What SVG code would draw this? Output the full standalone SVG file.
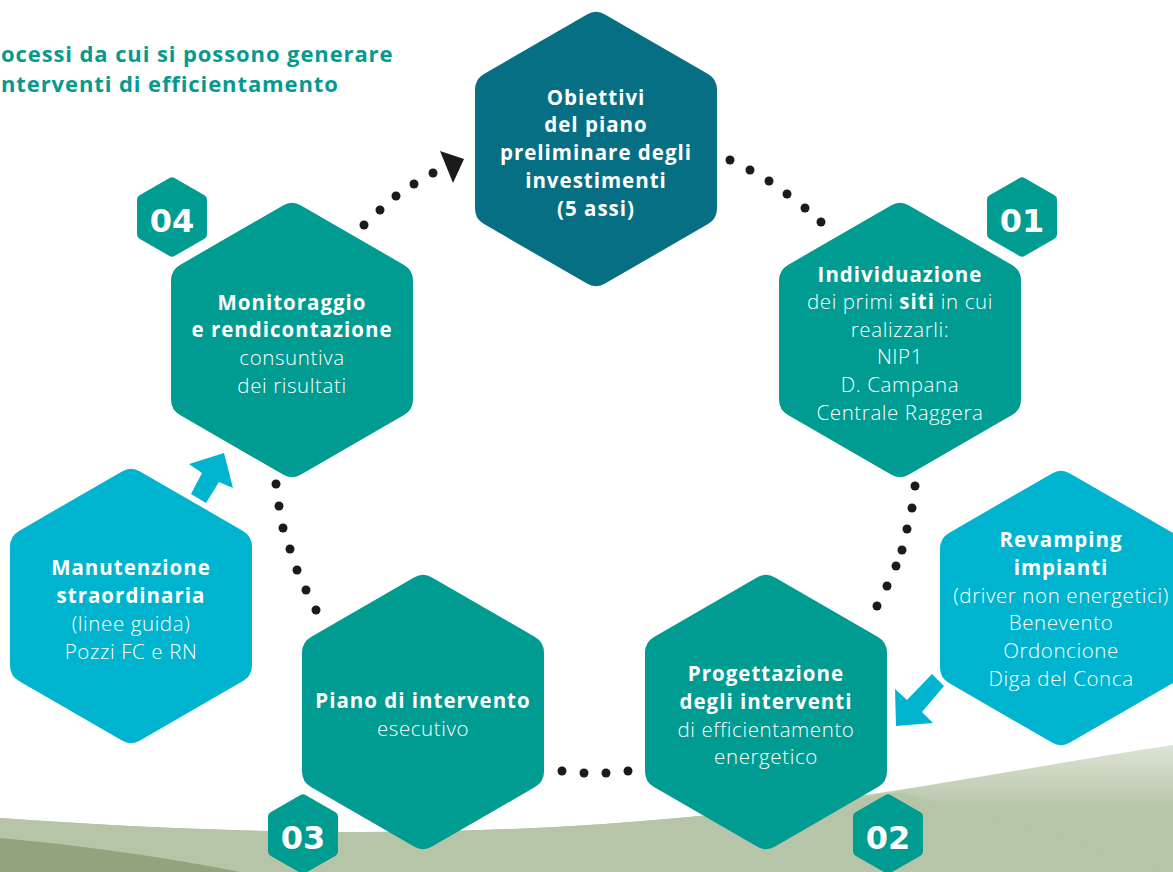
<svg xmlns="http://www.w3.org/2000/svg" width="1173" height="872" viewBox="0 0 1173 872">
<defs>
<style>
.teal{fill:#009b91;stroke:#009b91;stroke-width:36;stroke-linejoin:round}
.dark{fill:#066f84;stroke:#066f84;stroke-width:36;stroke-linejoin:round}
.cyan{fill:#00b4cf;stroke:#00b4cf;stroke-width:36;stroke-linejoin:round}
.badge{fill:#009b91;stroke:#009b91;stroke-width:10;stroke-linejoin:round}
text{font-family:"Open Sans","Noto Sans",sans-serif;fill:#fff;text-anchor:middle;font-size:20.5px;font-weight:300;letter-spacing:0.6px}
.b{font-weight:bold;letter-spacing:1px}
.num{font-family:"DejaVu Sans","Noto Sans",sans-serif;font-weight:bold;font-size:32px;letter-spacing:0}
.title{fill:#069a8e;text-anchor:start;font-weight:bold;font-size:22px;letter-spacing:0.9px}
.dot{fill:#1b1b1b}
.arr{fill:#00b4cf}
</style>
<polygon id="hex" points="0,-119 103,-59.5 103,59.5 0,119 -103,59.5 -103,-59.5"/>
<polygon id="bhex" points="0,-34.6 30,-17.3 30,17.3 0,34.6 -30,17.3 -30,-17.3"/>
<linearGradient id="band" x1="0" y1="740" x2="0" y2="810" gradientUnits="userSpaceOnUse">
<stop offset="0" stop-color="#dfe6d8"/>
<stop offset="1" stop-color="#b6c4a8"/>
</linearGradient>
</defs>
<rect width="1173" height="872" fill="#fff"/>
<g id="background">
<path d="M0,818 C250,836 480,838 700,816 C880,798 1020,768 1173,745 L1173,872 L0,872 Z" fill="url(#band)"/>
<path d="M0,818 C250,836 480,838 700,816 C800,806 850,800 900,792 L1173,872 L0,872 Z" fill="#b6c4a8"/>
<path d="M0,838 C80,845 170,858 240,872 L0,872 Z" fill="#93a37c"/>
</g>
<g id="title">
<text class="title" x="1" y="62">ocessi da cui si possono generare</text>
<text class="title" x="1" y="92">nterventi di efficientamento</text>
</g>
<g id="connectors">
<circle class="dot" cx="364" cy="225" r="4.5"/>
<circle class="dot" cx="380" cy="210" r="4.5"/>
<circle class="dot" cx="396" cy="196" r="4.5"/>
<circle class="dot" cx="414" cy="184" r="4.5"/>
<circle class="dot" cx="433" cy="173" r="4.5"/>
<polygon class="dot" points="440,151 464,159 453,183"/>
<circle class="dot" cx="730" cy="160" r="4.5"/>
<circle class="dot" cx="750" cy="170" r="4.5"/>
<circle class="dot" cx="769" cy="181" r="4.5"/>
<circle class="dot" cx="787" cy="194" r="4.5"/>
<circle class="dot" cx="805" cy="208" r="4.5"/>
<circle class="dot" cx="821" cy="222" r="4.5"/>
<circle class="dot" cx="915" cy="486" r="4.5"/>
<circle class="dot" cx="912" cy="508" r="4.5"/>
<circle class="dot" cx="907" cy="529" r="4.5"/>
<circle class="dot" cx="902" cy="550" r="4.5"/>
<circle class="dot" cx="896" cy="566" r="4.5"/>
<circle class="dot" cx="887" cy="586" r="4.5"/>
<circle class="dot" cx="877" cy="606" r="4.5"/>
<circle class="dot" cx="276" cy="484" r="4.5"/>
<circle class="dot" cx="279" cy="506" r="4.5"/>
<circle class="dot" cx="283" cy="528" r="4.5"/>
<circle class="dot" cx="290" cy="549" r="4.5"/>
<circle class="dot" cx="297" cy="570" r="4.5"/>
<circle class="dot" cx="306" cy="590" r="4.5"/>
<circle class="dot" cx="316" cy="610" r="4.5"/>
<circle class="dot" cx="562" cy="771" r="4.5"/>
<circle class="dot" cx="584" cy="773" r="4.5"/>
<circle class="dot" cx="606" cy="773" r="4.5"/>
<circle class="dot" cx="628" cy="771" r="4.5"/>
<polygon class="arr" points="191,494 202,473 189,464 224,453 233,488 219,482 206,503"/>
<polygon class="arr" points="932,674 907,700 895,689 896,726 933,723 922,712 944,686"/>
</g>
<g id="node-obiettivi">
<use href="#hex" class="dark" x="596" y="149"/>
<text class="b" x="596" y="105">Obiettivi</text>
<text class="b" x="596" y="132">del piano</text>
<text class="b" x="596" y="160">preliminare degli</text>
<text class="b" x="596" y="188">investimenti</text>
<text class="b" x="596" y="216">(5 assi)</text>
</g>
<g id="node-individuazione">
<use href="#hex" class="teal" x="900" y="340"/>
<text class="b" x="900" y="282">Individuazione</text>
<text x="900" y="309">dei primi <tspan class="b">siti</tspan> in cui</text>
<text x="900" y="337">realizzarli:</text>
<text x="900" y="364">NIP1</text>
<text x="900" y="392">D. Campana</text>
<text x="900" y="420">Centrale Raggera</text>
</g>
<g id="node-monitoraggio">
<use href="#hex" class="teal" x="292" y="340"/>
<text class="b" x="292" y="310">Monitoraggio</text>
<text class="b" x="292" y="337">e rendicontazione</text>
<text x="292" y="365">consuntiva</text>
<text x="292" y="393">dei risultati</text>
</g>
<g id="node-manutenzione">
<use href="#hex" class="cyan" x="131" y="606"/>
<text class="b" x="131" y="575">Manutenzione</text>
<text class="b" x="131" y="603">straordinaria</text>
<text x="131" y="631">(linee guida)</text>
<text x="131" y="659">Pozzi FC e RN</text>
</g>
<g id="node-piano">
<use href="#hex" class="teal" x="423" y="712"/>
<text class="b" x="423" y="708">Piano di intervento</text>
<text x="423" y="736">esecutivo</text>
</g>
<g id="node-progettazione">
<use href="#hex" class="teal" x="766" y="712"/>
<text class="b" x="766" y="681">Progettazione</text>
<text class="b" x="766" y="709">degli interventi</text>
<text x="766" y="737">di efficientamento</text>
<text x="766" y="764">energetico</text>
</g>
<g id="node-revamping">
<use href="#hex" class="cyan" x="1061" y="608"/>
<text class="b" x="1061" y="547">Revamping</text>
<text class="b" x="1061" y="575">impianti</text>
<text x="1061" y="603">(driver non energetici)</text>
<text x="1061" y="630">Benevento</text>
<text x="1061" y="658">Ordoncione</text>
<text x="1061" y="686">Diga del Conca</text>
</g>
<g id="badge-04">
<use href="#bhex" class="badge" x="172" y="217"/>
<text class="num" x="172" y="232">04</text>
</g>
<g id="badge-01">
<use href="#bhex" class="badge" x="1022" y="217"/>
<text class="num" x="1022" y="232">01</text>
</g>
<g id="badge-03">
<use href="#bhex" class="badge" x="303" y="834"/>
<text class="num" x="303" y="849">03</text>
</g>
<g id="badge-02">
<use href="#bhex" class="badge" x="888" y="834"/>
<text class="num" x="888" y="849">02</text>
</g>
</svg>
